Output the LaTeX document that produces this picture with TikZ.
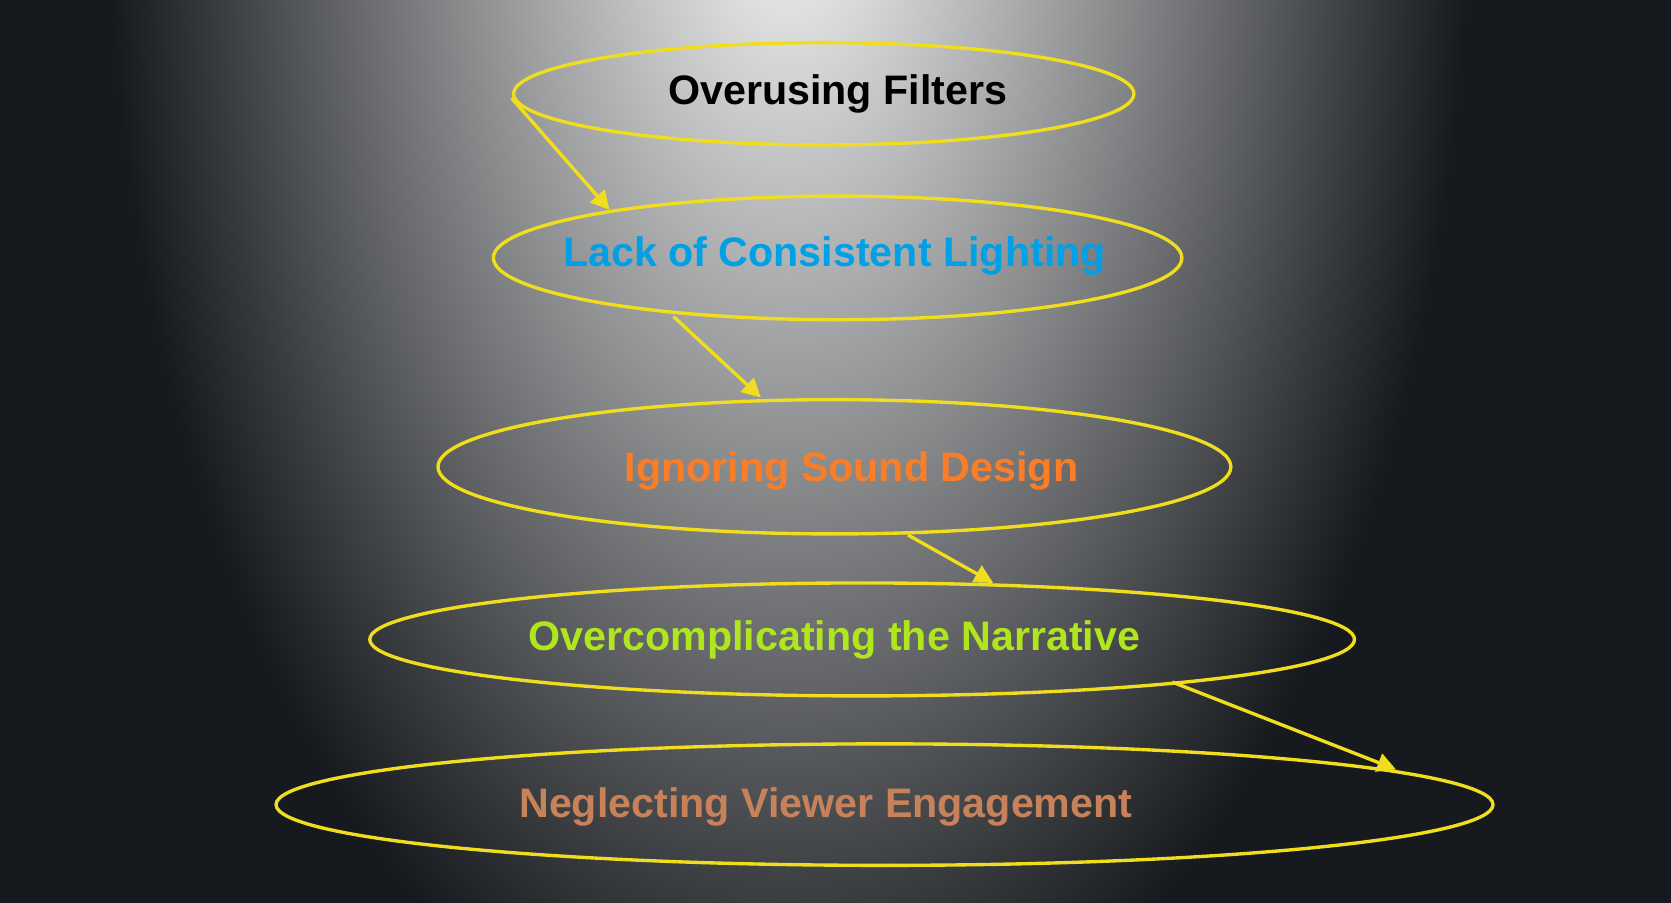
\documentclass[tikz,border=0pt]{standalone}
\usepackage{fontspec}
\setmainfont{Liberation Sans}
\usetikzlibrary{arrows.meta}
\definecolor{bg}{RGB}{22,25,29}
\definecolor{ylw}{RGB}{240,222,30}
\definecolor{tblue}{RGB}{0,160,230}
\definecolor{torange}{RGB}{250,125,40}
\definecolor{tgreen}{RGB}{175,230,30}
\definecolor{tbrown}{RGB}{200,130,90}
\tikzset{
  ell/.style={draw=ylw, line width=0.9pt},
  lbl/.style={font=\fontsize{11}{13}\selectfont\bfseries},
  arr/.style={draw=ylw, line width=0.9pt, -{Triangle[length=5pt,width=5pt]}}
}
\begin{document}
\begin{tikzpicture}[x=0.01cm,y=-0.01cm]
\fill[bg] (0,0) rectangle (1568,847);
\useasboundingbox (0,0) rectangle (1568,847);
\begin{scope}
\clip (0,0) rectangle (1568,847);
\shade[inner color=white!95!gray, outer color=bg] (740,-120) ellipse (640 and 1150);
\end{scope}
\draw[ell] (773,88) ellipse (291 and 48);
\draw[ell] (786,242) ellipse (323 and 58);
\draw[ell] (783,438) ellipse (372 and 63);
\draw[ell] (809,600) ellipse (462 and 53);
\draw[ell] (830,755) ellipse (571 and 57);
\node[lbl, text=black] (n1) at (786,88) {Overusing Filters};
\node[lbl, text=tblue] (n2) at (783,240) {Lack of Consistent Lighting};
\node[lbl, text=torange] (n3) at (799,442) {Ignoring Sound Design};
\node[lbl, text=tgreen] (n4) at (783,600) {Overcomplicating the Narrative};
\node[lbl, text=tbrown] (n5) at (775,757) {Neglecting Viewer Engagement};
\coordinate (a1) at (480,92); \coordinate (b1) at (572,197);
\coordinate (a2) at (632,297); \coordinate (b2) at (714,373);
\coordinate (a3) at (852,502); \coordinate (b3) at (932,547);
\coordinate (a4) at (1100,640); \coordinate (b4) at (1310,722);
\draw[arr] (a1) -- (b1);
\draw[arr] (a2) -- (b2);
\draw[arr] (a3) -- (b3);
\draw[arr] (a4) -- (b4);
\end{tikzpicture}
\end{document}
